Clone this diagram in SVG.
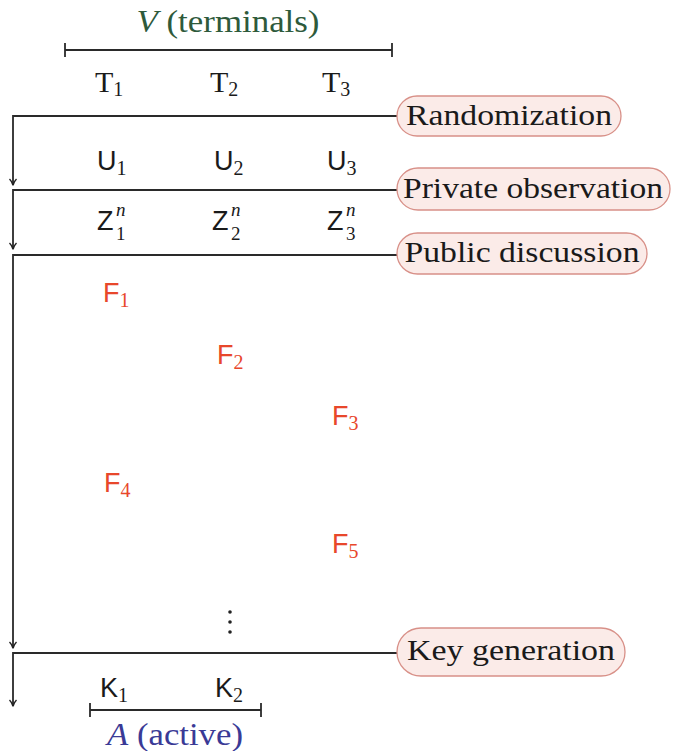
<svg xmlns="http://www.w3.org/2000/svg" width="674" height="751" viewBox="0 0 674 751">
<defs>
<marker id="arr" markerWidth="10" markerHeight="10" refX="8" refY="5" orient="auto" markerUnits="userSpaceOnUse" viewBox="0 0 10 10">
<path d="M2,1.5 Q5,4.5 8.5,5 Q5,5.5 2,8.5" fill="none" stroke="#222" stroke-width="1.4"/>
</marker>
</defs>
<style>
.ln{stroke:#2a2a2a;stroke-width:1.8;fill:none}
.lab{font-family:"Liberation Serif","DejaVu Serif",serif;font-size:30px;fill:#1a1a1a}
.sans{font-family:"Liberation Sans","DejaVu Sans",sans-serif;font-size:27px;fill:#1a1a1a}
.sub{font-family:"Liberation Serif",serif;font-size:20px}
.sm{font-family:"Liberation Serif",serif;font-size:19px;fill:#1a1a1a}
.red{fill:#e8472b}
.pill{fill:#fbebe8;stroke:#d89088;stroke-width:1.3}
</style>
<g id="terminals">
<text x="228" y="32" text-anchor="middle" font-family="Liberation Serif,serif" font-size="31" fill="#2e5a3b" textLength="183" lengthAdjust="spacingAndGlyphs"><tspan font-style="italic">V</tspan> (terminals)</text>
<path class="ln" d="M65,50 H392 M65,43 V57 M392,43 V57" stroke-width="1.5"/>
<text class="lab" x="95" y="92" font-size="30">T<tspan class="sub" dy="4">1</tspan></text>
<text class="lab" x="210" y="92" font-size="30">T<tspan class="sub" dy="4">2</tspan></text>
<text class="lab" x="322" y="92" font-size="30">T<tspan class="sub" dy="4">3</tspan></text>
</g>
<g id="connectors">
<path class="ln" d="M397,116 H13 V185" marker-end="url(#arr)"/>
<path class="ln" d="M397,190 H13 V249" marker-end="url(#arr)"/>
<path class="ln" d="M397,255 H13 V648" marker-end="url(#arr)"/>
<path class="ln" d="M397,653 H13 V706" marker-end="url(#arr)"/>
</g>
<g id="randomization">
<rect class="pill" x="397" y="96" width="224" height="40" rx="20"/>
<text class="lab" x="509" y="125" text-anchor="middle" textLength="206" lengthAdjust="spacingAndGlyphs">Randomization</text>
</g>
<g id="private-observation">
<rect class="pill" x="397" y="168" width="273" height="42" rx="21"/>
<text class="lab" x="533" y="198" text-anchor="middle" textLength="260" lengthAdjust="spacingAndGlyphs">Private observation</text>
</g>
<g id="public-discussion">
<rect class="pill" x="397" y="233" width="250" height="41" rx="20.5"/>
<text class="lab" x="522" y="262" text-anchor="middle" textLength="235" lengthAdjust="spacingAndGlyphs">Public discussion</text>
</g>
<g id="key-generation">
<rect class="pill" x="397" y="628" width="228" height="48" rx="24"/>
<text class="lab" x="511" y="660" text-anchor="middle" textLength="208" lengthAdjust="spacingAndGlyphs">Key generation</text>
</g>
<g id="U">
<text class="sans" x="97" y="170">U<tspan class="sub" dy="5">1</tspan></text>
<text class="sans" x="214" y="170">U<tspan class="sub" dy="5">2</tspan></text>
<text class="sans" x="327" y="170">U<tspan class="sub" dy="5">3</tspan></text>
</g>
<g id="Z">
<text class="sans" x="97" y="230">Z</text>
<text class="sm" x="116" y="216" font-style="italic">n</text>
<text class="sm" x="116" y="240">1</text>
<text class="sans" x="212" y="230">Z</text>
<text class="sm" x="231" y="216" font-style="italic">n</text>
<text class="sm" x="231" y="240">2</text>
<text class="sans" x="327" y="230">Z</text>
<text class="sm" x="346" y="216" font-style="italic">n</text>
<text class="sm" x="346" y="240">3</text>
</g>
<g id="F">
<text class="sans red" x="103" y="302">F<tspan class="sub" dy="5">1</tspan></text>
<text class="sans red" x="217" y="364">F<tspan class="sub" dy="5">2</tspan></text>
<text class="sans red" x="332" y="425">F<tspan class="sub" dy="5">3</tspan></text>
<text class="sans red" x="104" y="492">F<tspan class="sub" dy="5">4</tspan></text>
<text class="sans red" x="332" y="553">F<tspan class="sub" dy="5">5</tspan></text>
</g>
<g id="vdots" fill="#222">
<circle cx="230" cy="612" r="1.8"/>
<circle cx="230" cy="622" r="1.8"/>
<circle cx="230" cy="632" r="1.8"/>
</g>
<g id="K">
<text class="sans" x="100" y="697">K<tspan class="sub" dy="5">1</tspan></text>
<text class="sans" x="215" y="697">K<tspan class="sub" dy="5">2</tspan></text>
</g>
<g id="active">
<path class="ln" d="M90,710 H261 M90,703 V717 M261,703 V717" stroke-width="1.5"/>
<text x="175" y="745" text-anchor="middle" font-family="Liberation Serif,serif" font-size="31" fill="#3a3a96" textLength="136" lengthAdjust="spacingAndGlyphs"><tspan font-style="italic">A</tspan> (active)</text>
</g>
</svg>
